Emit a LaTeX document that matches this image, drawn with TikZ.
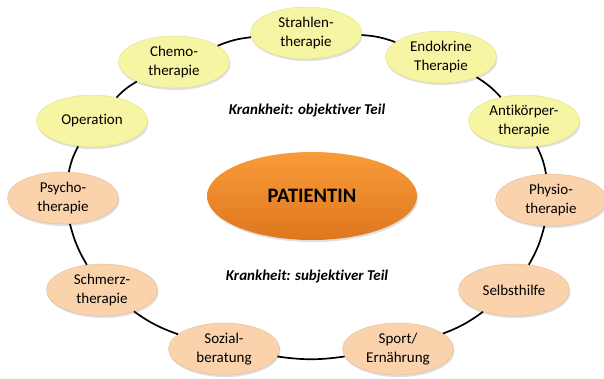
\documentclass[tikz,border=0pt]{standalone}
\usepackage{fontspec}
\setmainfont[Ligatures=CommonOff]{Carlito}
\usetikzlibrary{shapes.geometric,shadows}
\definecolor{yelfill}{RGB}{246,245,163}
\definecolor{yeldraw}{RGB}{225,222,140}
\definecolor{peachfill}{RGB}{250,211,173}
\definecolor{peachdraw}{RGB}{230,185,145}
\definecolor{orgtop}{RGB}{249,156,58}
\definecolor{orgbot}{RGB}{222,118,30}
\tikzset{
  ringnode/.style={ellipse, minimum width=111pt, minimum height=52pt, inner sep=0pt,
    align=center, font=\fontsize{15}{19}\selectfont,
    drop shadow={opacity=0.25, shadow xshift=1pt, shadow yshift=-2pt}},
  yelnode/.style={ringnode, fill=yelfill, draw=yeldraw, line width=0.4pt},
  peachnode/.style={ringnode, fill=peachfill, draw=peachdraw, line width=0.4pt},
  centernode/.style={ellipse, minimum width=210pt, minimum height=88pt, inner sep=0pt,
    top color=orgtop, bottom color=orgbot, draw=none,
    font=\fontsize{20.5}{24}\selectfont\bfseries,
    drop shadow={opacity=0.25, shadow xshift=1pt, shadow yshift=-2pt}},
  labeltext/.style={font=\fontsize{15}{17}\selectfont\bfseries\itshape},
  link/.style={line width=1.7pt, black, bend left=8}
}
\begin{document}
\begin{tikzpicture}[x=1pt,y=-1pt]
\useasboundingbox (0,0) rectangle (604,378);
\node[yelnode] (strahlen) at (306,33) {Strahlen-\\therapie};
\node[yelnode] (endo) at (441,57) {Endokrine\\Therapie};
\node[yelnode] (anti) at (524,121) {Antikörper-\\therapie};
\node[peachnode] (physio) at (551,200) {Physio-\\therapie};
\node[peachnode] (selbst) at (514,290) {Selbsthilfe};
\node[peachnode] (sport) at (398,349) {Sport/\\Ernährung};
\node[peachnode] (sozial) at (224,349) {Sozial-\\beratung};
\node[peachnode] (schmerz) at (102,290) {Schmerz-\\therapie};
\node[peachnode] (psycho) at (63,198) {Psycho-\\therapie};
\node[yelnode] (operation) at (92,121) {Operation};
\node[yelnode] (chemo) at (174,62) {Chemo-\\therapie};
\node[centernode] (patient) at (312,196) {PATIENTIN};
\node[labeltext] (obj) at (307,111) {Krankheit: objektiver Teil};
\node[labeltext] (subj) at (307,276) {Krankheit: subjektiver Teil};
\draw[link] (strahlen) to (endo);
\draw[link] (endo) to (anti);
\draw[link] (anti) to (physio);
\draw[link] (physio) to (selbst);
\draw[link] (selbst) to (sport);
\draw[link] (sport) to (sozial);
\draw[link] (sozial) to (schmerz);
\draw[link] (schmerz) to (psycho);
\draw[link] (psycho) to (operation);
\draw[link] (operation) to (chemo);
\draw[link] (chemo) to (strahlen);
\end{tikzpicture}
\end{document}
